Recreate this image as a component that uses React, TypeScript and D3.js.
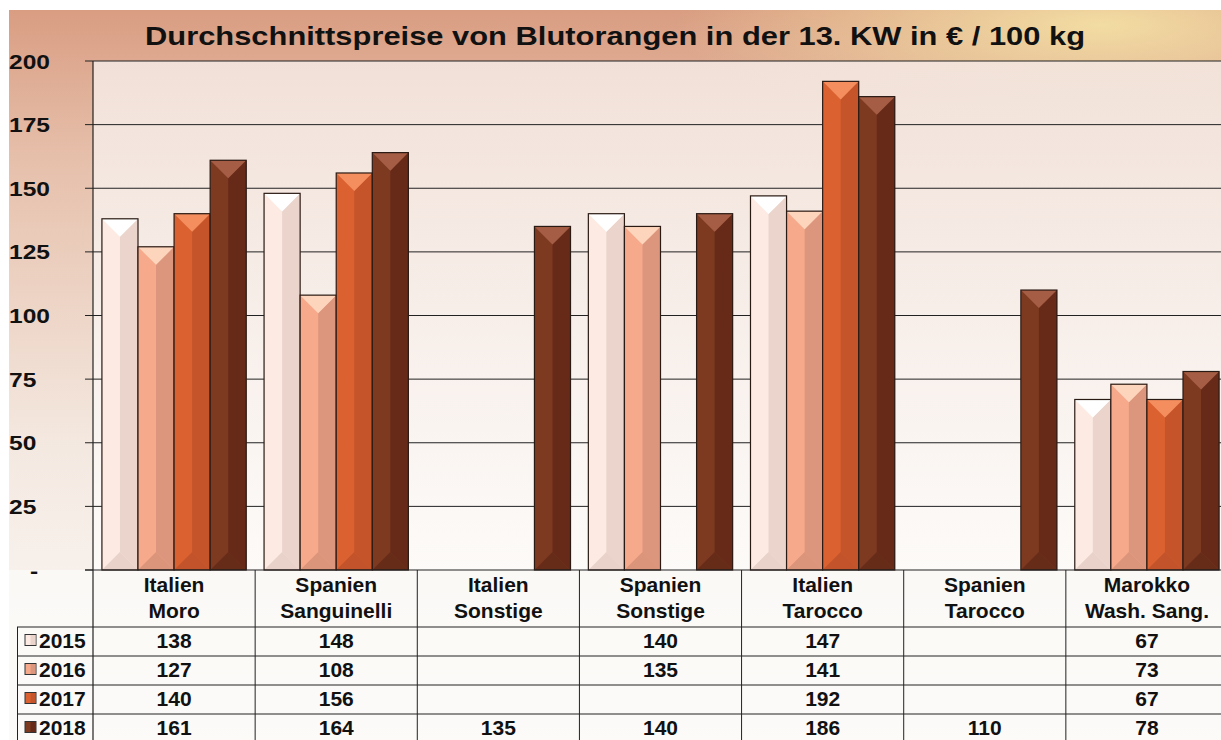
import React from 'react';
import * as d3 from 'd3';

const categories = [
  ['Italien', 'Moro'],
  ['Spanien', 'Sanguinelli'],
  ['Italien', 'Sonstige'],
  ['Spanien', 'Sonstige'],
  ['Italien', 'Tarocco'],
  ['Spanien', 'Tarocco'],
  ['Marokko', 'Wash. Sang.'],
];
const years = ['2015', '2016', '2017', '2018'];
const v2015 = [138, 148, null, 140, 147, null, 67];
const v2016 = [127, 108, null, 135, 141, null, 73];
const v2017 = [140, 156, null, null, 192, null, 67];
const v2018 = [161, 164, 135, 140, 186, 110, 78];
const series = [v2015, v2016, v2017, v2018];
const yTicks = [0, 25, 50, 75, 100, 125, 150, 175, 200];

// main / right shade / top light / bottom shade
const palette = [
  ['#fdebe3', '#ead4cc', '#ffffff', '#e0c8bf'],
  ['#f6aa8b', '#dc967d', '#fdd5bd', '#d08b74'],
  ['#db6230', '#c5542b', '#f48e5e', '#b94d28'],
  ['#7d3a21', '#672a19', '#a55e45', '#5e2716'],
];

const W = 1221;
const H = 740;
const left = 93;
const right = 1228;
const top = 61;
const bottom = 570;
const rowH = 29;
const tableTop = 627;
const font = '"Liberation Sans", Arial, sans-serif';

type TProps = { x: number; y: number; size: number; sx?: number; anchor?: string; children: React.ReactNode };
const T = ({ x, y, size, sx = 1, anchor = 'start', children }: TProps) => (
  <text
    transform={`translate(${x},${y}) scale(${sx},1)`}
    textAnchor={anchor}
    fontSize={size}
    fontWeight="bold"
    fill="#111"
  >
    {children}
  </text>
);

export default function App() {
  const x = d3
    .scaleBand<number>()
    .domain(d3.range(categories.length))
    .range([left, right])
    .paddingInner(0.11)
    .paddingOuter(0.055);
  const step = x.step();
  const x1 = d3.scaleBand<number>().domain(d3.range(years.length)).range([0, x.bandwidth()]);
  const y = d3.scaleLinear().domain([0, 200]).range([bottom, top]);
  const colStart = (i: number) => left + i * step;

  const bar = (ci: number, si: number, v: number) => {
    const bx = x(ci)! + x1(si)!;
    const bw = x1.bandwidth();
    const by = y(v);
    const bh = y(0) - by;
    const c = palette[si];
    const d = bw / 2;
    return (
      <g key={`${ci}-${si}`}>
        <rect x={bx} y={by} width={bw} height={bh} fill={c[0]} />
        <polygon points={`${bx + d},${by + d} ${bx + bw},${by} ${bx + bw},${by + bh} ${bx + d},${by + bh - d}`} fill={c[1]} />
        <polygon points={`${bx},${by} ${bx + bw},${by} ${bx + d},${by + d}`} fill={c[2]} />
        <polygon points={`${bx},${by + bh} ${bx + bw},${by + bh} ${bx + d},${by + bh - d}`} fill={c[3]} opacity={0.7} />
        <rect x={bx} y={by} width={bw} height={bh} fill="none" stroke="#2a1a14" strokeWidth={1.2} />
      </g>
    );
  };

  return (
    <svg width={W} height={H} style={{ position: 'absolute', left: 0, top: 0 }} fontFamily={font}>
      <defs>
        <linearGradient id="bg" x1="0" y1="0" x2="0" y2="1">
          <stop offset="0" stopColor="#d99d82" />
          <stop offset="0.2" stopColor="#e6bfaa" />
          <stop offset="0.6" stopColor="#f4e9e1" />
          <stop offset="1" stopColor="#fcfaf8" />
        </linearGradient>
        <radialGradient id="glow" cx="0.9" cy="0.05" r="0.35">
          <stop offset="0" stopColor="#f5e3a6" stopOpacity={0.9} />
          <stop offset="1" stopColor="#f5e3a6" stopOpacity={0} />
        </radialGradient>
        <linearGradient id="plotbg" x1="0" y1="0" x2="0" y2="1">
          <stop offset="0" stopColor="#f3e5de" stopOpacity={0.92} />
          <stop offset="1" stopColor="#fdfbf9" stopOpacity={0.95} />
        </linearGradient>
      </defs>
      <rect x={0} y={0} width={W} height={H} fill="#ffffff" />
      <rect x={9} y={10} width={W - 9} height={H - 10} fill="url(#bg)" />
      <rect x={9} y={10} width={W - 9} height={300} fill="url(#glow)" />
      <rect x={left} y={top} width={right - left} height={bottom - top} fill="url(#plotbg)" />
      <rect x={9} y={bottom} width={W - 9} height={H - bottom} fill="#fcfaf8" opacity={0.85} />

      <text
        x={615}
        y={45}
        textAnchor="middle"
        fontSize={25}
        fontWeight="bold"
        fill="#111"
        textLength={940}
        lengthAdjust="spacingAndGlyphs"
      >
        Durchschnittspreise von Blutorangen in der 13. KW in € / 100 kg
      </text>

      {yTicks.map((t) => (
        <g key={t}>
          {t > 0 && <line x1={left} x2={W} y1={y(t)} y2={y(t)} stroke="#222" strokeWidth={1} />}
          <line x1={85} x2={left} y1={y(t)} y2={y(t)} stroke="#222" strokeWidth={1} />
          <T x={t === 0 ? 30 : 9} y={y(t) + 7.5} size={21} sx={1.17}>
            {t === 0 ? '-' : t}
          </T>
        </g>
      ))}

      {categories.map((_, ci) =>
        series.map((s, si) => (s[ci] == null ? null : bar(ci, si, s[ci] as number)))
      )}

      <line x1={left} x2={left} y1={top} y2={H} stroke="#222" strokeWidth={1.2} />
      <line x1={85} x2={W} y1={bottom} y2={bottom} stroke="#222" strokeWidth={1.2} />

      {d3.range(1, categories.length + 1).map((i) => (
        <line key={i} x1={colStart(i)} x2={colStart(i)} y1={bottom} y2={H} stroke="#222" strokeWidth={1} />
      ))}
      <line x1={17.5} x2={17.5} y1={tableTop} y2={H} stroke="#222" strokeWidth={1} />
      {years.map((_, ri) => (
        <line key={ri} x1={17} x2={W} y1={tableTop + ri * rowH} y2={tableTop + ri * rowH} stroke="#222" strokeWidth={1} />
      ))}

      {categories.map((lines, ci) => (
        <g key={ci}>
          <T x={colStart(ci) + step / 2} y={592} size={21} anchor="middle">{lines[0]}</T>
          <T x={colStart(ci) + step / 2} y={618} size={21} anchor="middle">{lines[1]}</T>
        </g>
      ))}

      {years.map((yr, si) => {
        const ry = tableTop + si * rowH;
        const c = palette[si];
        return (
          <g key={yr}>
            <rect x={25} y={ry + 7.5} width={11} height={11} fill={c[0]} stroke="#333" strokeWidth={1} />
            <rect x={30.5} y={ry + 8} width={5} height={10} fill={c[1]} />
            <T x={39} y={ry + 21} size={21}>{yr}</T>
            {series[si].map((v, ci) =>
              v == null ? null : (
                <T key={ci} x={colStart(ci) + step / 2} y={ry + 21} size={21} anchor="middle">
                  {v}
                </T>
              )
            )}
          </g>
        );
      })}
    </svg>
  );
}
